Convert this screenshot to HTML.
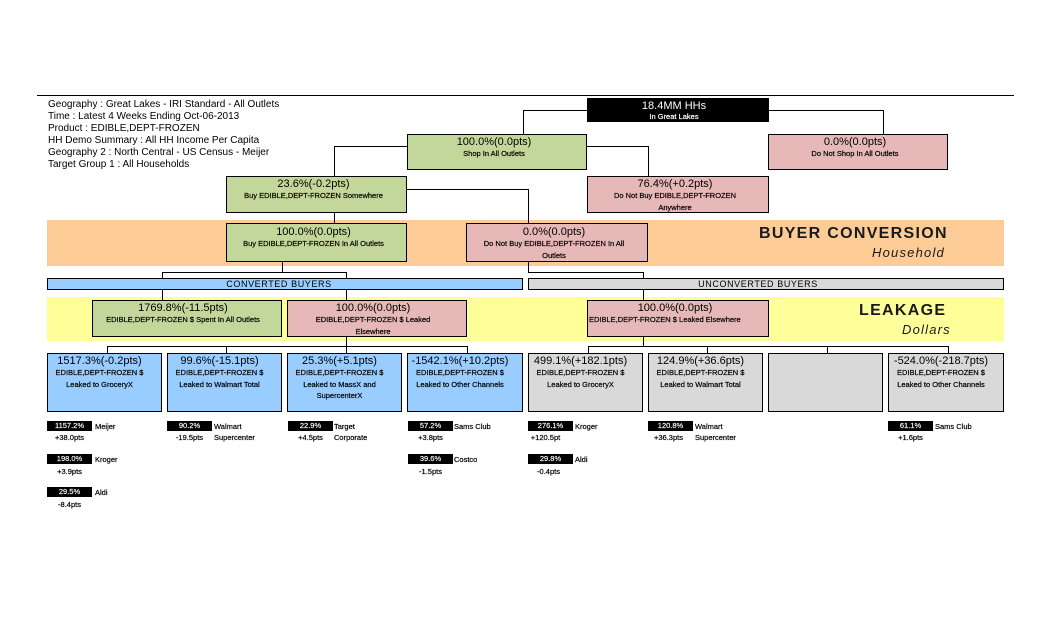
<!DOCTYPE html>
<html><head><meta charset="utf-8"><style>
*{margin:0;padding:0}
body{width:1051px;height:638px;background:#fff;position:relative;overflow:hidden;font-family:"Liberation Sans",Arial,sans-serif;color:#000}
.a{position:absolute}
.l{position:absolute;background:#000}
.b{position:absolute;box-sizing:border-box;border:1px solid #000;text-align:center;white-space:nowrap;overflow:hidden}
.t1{font-size:11px;line-height:12px}
.t2{font-size:7.5px;line-height:12px;-webkit-text-stroke:0.2px}
.g{background:#C4D79B}
.p{background:#E6B8B7}
.bl{background:#99CCFF}
.gr{background:#D9D9D9}
.hd{position:absolute;left:48px;font-size:10px;line-height:12px;white-space:nowrap}
.bb{padding-right:10px}
.lab{position:absolute;width:45px;height:10px;background:#000;color:#fff;font-size:7.5px;line-height:10px;text-align:center;-webkit-text-stroke:0.15px}
.nm{position:absolute;font-size:7.5px;line-height:11px;white-space:nowrap;-webkit-text-stroke:0.2px}
.pt{position:absolute;width:45px;font-size:7.5px;line-height:10px;text-align:center;white-space:nowrap;-webkit-text-stroke:0.2px}
</style></head><body>

<div class="l" style="left:37px;top:95px;width:977px;height:1px"></div>

<div class="hd" style="top:99px">Geography : Great Lakes - IRI Standard - All Outlets</div>
<div class="hd" style="top:111px">Time : Latest 4 Weeks Ending Oct-06-2013</div>
<div class="hd" style="top:123px">Product : EDIBLE,DEPT-FROZEN</div>
<div class="hd" style="top:135px">HH Demo Summary : All HH Income Per Capita</div>
<div class="hd" style="top:147px">Geography 2 : North Central - US Census - Meijer</div>
<div class="hd" style="top:159px">Target Group 1 : All Households</div>

<!-- bands -->
<div class="a" style="left:47px;top:220px;width:957px;height:46px;background:#FCCB96"></div>
<div class="a" style="left:47px;top:297px;width:957px;height:44px;background:#FFFF99"></div>
<div class="a" style="left:759px;top:224px;font-size:16px;font-weight:bold;letter-spacing:1.3px;color:#1a1a1a;white-space:nowrap;line-height:20px">BUYER CONVERSION</div>
<div class="a" style="left:872px;top:245px;font-size:13px;font-style:italic;letter-spacing:1.2px;color:#1a1a1a;white-space:nowrap;line-height:16px">Household</div>
<div class="a" style="left:859px;top:301px;font-size:16px;font-weight:bold;letter-spacing:1.3px;color:#1a1a1a;white-space:nowrap;line-height:20px">LEAKAGE</div>
<div class="a" style="left:902px;top:322px;font-size:13px;font-style:italic;letter-spacing:1.2px;color:#1a1a1a;white-space:nowrap;line-height:16px">Dollars</div>

<!-- lines -->
<div class="l" style="left:523px;top:110px;width:64px;height:1px"></div>
<div class="l" style="left:523px;top:110px;width:1px;height:24px"></div>
<div class="l" style="left:769px;top:110px;width:115px;height:1px"></div>
<div class="l" style="left:883px;top:110px;width:1px;height:24px"></div>
<div class="l" style="left:334px;top:146px;width:73px;height:1px"></div>
<div class="l" style="left:334px;top:146px;width:1px;height:30px"></div>
<div class="l" style="left:587px;top:146px;width:62px;height:1px"></div>
<div class="l" style="left:648px;top:146px;width:1px;height:30px"></div>
<div class="l" style="left:407px;top:189px;width:122px;height:1px"></div>
<div class="l" style="left:528px;top:189px;width:1px;height:34px"></div>
<div class="l" style="left:334px;top:213px;width:1px;height:10px"></div>
<div class="l" style="left:282px;top:262px;width:1px;height:10px"></div>
<div class="l" style="left:162px;top:272px;width:185px;height:1px"></div>
<div class="l" style="left:162px;top:272px;width:1px;height:6px"></div>
<div class="l" style="left:346px;top:272px;width:1px;height:6px"></div>
<div class="l" style="left:528px;top:262px;width:1px;height:10px"></div>
<div class="l" style="left:528px;top:272px;width:116px;height:1px"></div>
<div class="l" style="left:643px;top:272px;width:1px;height:6px"></div>
<div class="l" style="left:162px;top:290px;width:1px;height:10px"></div>
<div class="l" style="left:346px;top:290px;width:1px;height:10px"></div>
<div class="l" style="left:643px;top:290px;width:1px;height:10px"></div>
<div class="l" style="left:346px;top:337px;width:1px;height:9px"></div>
<div class="l" style="left:107px;top:346px;width:361px;height:1px"></div>
<div class="l" style="left:107px;top:346px;width:1px;height:7px"></div>
<div class="l" style="left:226px;top:346px;width:1px;height:7px"></div>
<div class="l" style="left:346px;top:346px;width:1px;height:7px"></div>
<div class="l" style="left:467px;top:346px;width:1px;height:7px"></div>
<div class="l" style="left:643px;top:337px;width:1px;height:9px"></div>
<div class="l" style="left:588px;top:346px;width:361px;height:1px"></div>
<div class="l" style="left:588px;top:346px;width:1px;height:7px"></div>
<div class="l" style="left:707px;top:346px;width:1px;height:7px"></div>
<div class="l" style="left:827px;top:346px;width:1px;height:7px"></div>
<div class="l" style="left:948px;top:346px;width:1px;height:7px"></div>

<!-- tree boxes -->
<div class="b" style="left:587px;top:98px;width:182px;height:24px;background:#000;color:#fff;padding-right:8px"><div class="t1" style="line-height:12px;margin-top:1px">18.4MM HHs</div><div class="t2" style="line-height:9px">In Great Lakes</div></div>
<div class="b g" style="left:407px;top:134px;width:180px;height:36px;padding-right:6px;padding-top:1px"><div class="t1">100.0%(0.0pts)</div><div class="t2">Shop In All Outlets</div></div>
<div class="b p" style="left:768px;top:134px;width:180px;height:36px;padding-right:6px;padding-top:1px"><div class="t1">0.0%(0.0pts)</div><div class="t2">Do Not Shop In All Outlets</div></div>
<div class="b g" style="left:226px;top:176px;width:181px;height:37px;padding-right:6px;padding-top:1px"><div class="t1">23.6%(-0.2pts)</div><div class="t2">Buy EDIBLE,DEPT-FROZEN Somewhere</div></div>
<div class="b p" style="left:587px;top:176px;width:182px;height:37px;padding-right:6px;padding-top:1px"><div class="t1">76.4%(+0.2pts)</div><div class="t2">Do Not Buy EDIBLE,DEPT-FROZEN<br>Anywhere</div></div>
<div class="b g" style="left:226px;top:223px;width:181px;height:39px;padding-right:6px;padding-top:2px"><div class="t1">100.0%(0.0pts)</div><div class="t2">Buy EDIBLE,DEPT-FROZEN In All Outlets</div></div>
<div class="b p" style="left:466px;top:223px;width:182px;height:39px;padding-right:6px;padding-top:2px"><div class="t1">0.0%(0.0pts)</div><div class="t2">Do Not Buy EDIBLE,DEPT-FROZEN In All<br>Outlets</div></div>

<!-- bars -->
<div class="b bl" style="left:47px;top:278px;width:476px;height:12px;font-size:9px;line-height:10px;letter-spacing:0.6px;padding-right:12px">CONVERTED BUYERS</div>
<div class="b gr" style="left:528px;top:278px;width:476px;height:12px;font-size:9px;line-height:10px;letter-spacing:0.6px;padding-right:16px">UNCONVERTED BUYERS</div>

<!-- leakage boxes -->
<div class="b g" style="left:92px;top:300px;width:190px;height:37px;padding-right:8px;padding-top:1px"><div class="t1">1769.8%(-11.5pts)</div><div class="t2">EDIBLE,DEPT-FROZEN $ Spent In All Outlets</div></div>
<div class="b p" style="left:287px;top:300px;width:180px;height:37px;padding-right:8px;padding-top:1px"><div class="t1">100.0%(0.0pts)</div><div class="t2">EDIBLE,DEPT-FROZEN $ Leaked<br>Elsewhere</div></div>
<div class="b p" style="left:587px;top:300px;width:182px;height:37px;padding-top:1px"><div class="t1" style="padding-right:6px">100.0%(0.0pts)</div><div class="t2" style="text-align:left;padding-left:1px">EDIBLE,DEPT-FROZEN $ Leaked Elsewhere</div></div>

<!-- bottom boxes -->
<div class="b bl bb" style="left:47px;top:353px;width:115px;height:59px;padding-top:1px"><div class="t1">1517.3%(-0.2pts)</div><div class="t2" style="line-height:11.5px">EDIBLE,DEPT-FROZEN $<br>Leaked to GroceryX</div></div>
<div class="b bl bb" style="left:167px;top:353px;width:115px;height:59px;padding-top:1px"><div class="t1">99.6%(-15.1pts)</div><div class="t2" style="line-height:11.5px">EDIBLE,DEPT-FROZEN $<br>Leaked to Walmart Total</div></div>
<div class="b bl bb" style="left:287px;top:353px;width:115px;height:59px;padding-top:1px"><div class="t1">25.3%(+5.1pts)</div><div class="t2" style="line-height:11.5px">EDIBLE,DEPT-FROZEN $<br>Leaked to MassX and<br>SupercenterX</div></div>
<div class="b bl bb" style="left:407px;top:353px;width:116px;height:59px;padding-top:1px"><div class="t1">-1542.1%(+10.2pts)</div><div class="t2" style="line-height:11.5px">EDIBLE,DEPT-FROZEN $<br>Leaked to Other Channels</div></div>

<div class="b gr bb" style="left:528px;top:353px;width:115px;height:59px;padding-top:1px"><div class="t1">499.1%(+182.1pts)</div><div class="t2" style="line-height:11.5px">EDIBLE,DEPT-FROZEN $<br>Leaked to GroceryX</div></div>
<div class="b gr bb" style="left:648px;top:353px;width:115px;height:59px;padding-top:1px"><div class="t1">124.9%(+36.6pts)</div><div class="t2" style="line-height:11.5px">EDIBLE,DEPT-FROZEN $<br>Leaked to Walmart Total</div></div>
<div class="b gr bb" style="left:768px;top:353px;width:115px;height:59px"></div>
<div class="b gr bb" style="left:888px;top:353px;width:116px;height:59px;padding-top:1px"><div class="t1">-524.0%(-218.7pts)</div><div class="t2" style="line-height:11.5px">EDIBLE,DEPT-FROZEN $<br>Leaked to Other Channels</div></div>

<!-- labels col1 -->
<div class="lab" style="left:47px;top:421px">1157.2%</div>
<div class="nm" style="left:95px;top:421px">Meijer</div>
<div class="pt" style="left:47px;top:433px">+38.0pts</div>
<div class="lab" style="left:47px;top:454px">198.0%</div>
<div class="nm" style="left:95px;top:454px">Kroger</div>
<div class="pt" style="left:47px;top:467px">+3.9pts</div>
<div class="lab" style="left:47px;top:487px">29.5%</div>
<div class="nm" style="left:95px;top:487px">Aldi</div>
<div class="pt" style="left:47px;top:500px">-8.4pts</div>

<!-- col2 -->
<div class="lab" style="left:167px;top:421px">90.2%</div>
<div class="nm" style="left:214px;top:421px">Walmart<br>Supercenter</div>
<div class="pt" style="left:167px;top:433px">-19.5pts</div>

<!-- col3 -->
<div class="lab" style="left:288px;top:421px">22.9%</div>
<div class="nm" style="left:334px;top:421px">Target<br>Corporate</div>
<div class="pt" style="left:288px;top:433px">+4.5pts</div>

<!-- col4 -->
<div class="lab" style="left:408px;top:421px">57.2%</div>
<div class="nm" style="left:454px;top:421px">Sams Club</div>
<div class="pt" style="left:408px;top:433px">+3.8pts</div>
<div class="lab" style="left:408px;top:454px">39.6%</div>
<div class="nm" style="left:454px;top:454px">Costco</div>
<div class="pt" style="left:408px;top:467px">-1.5pts</div>

<!-- right col1 -->
<div class="lab" style="left:528px;top:421px">276.1%</div>
<div class="nm" style="left:575px;top:421px">Kroger</div>
<div class="pt" style="left:523px;top:433px">+120.5pt</div>
<div class="lab" style="left:528px;top:454px">29.8%</div>
<div class="nm" style="left:575px;top:454px">Aldi</div>
<div class="pt" style="left:526px;top:467px">-0.4pts</div>

<!-- right col2 -->
<div class="lab" style="left:648px;top:421px">120.8%</div>
<div class="nm" style="left:695px;top:421px">Walmart<br>Supercenter</div>
<div class="pt" style="left:646px;top:433px">+36.3pts</div>

<!-- right col4 -->
<div class="lab" style="left:888px;top:421px">61.1%</div>
<div class="nm" style="left:935px;top:421px">Sams Club</div>
<div class="pt" style="left:888px;top:433px">+1.6pts</div>

</body></html>
